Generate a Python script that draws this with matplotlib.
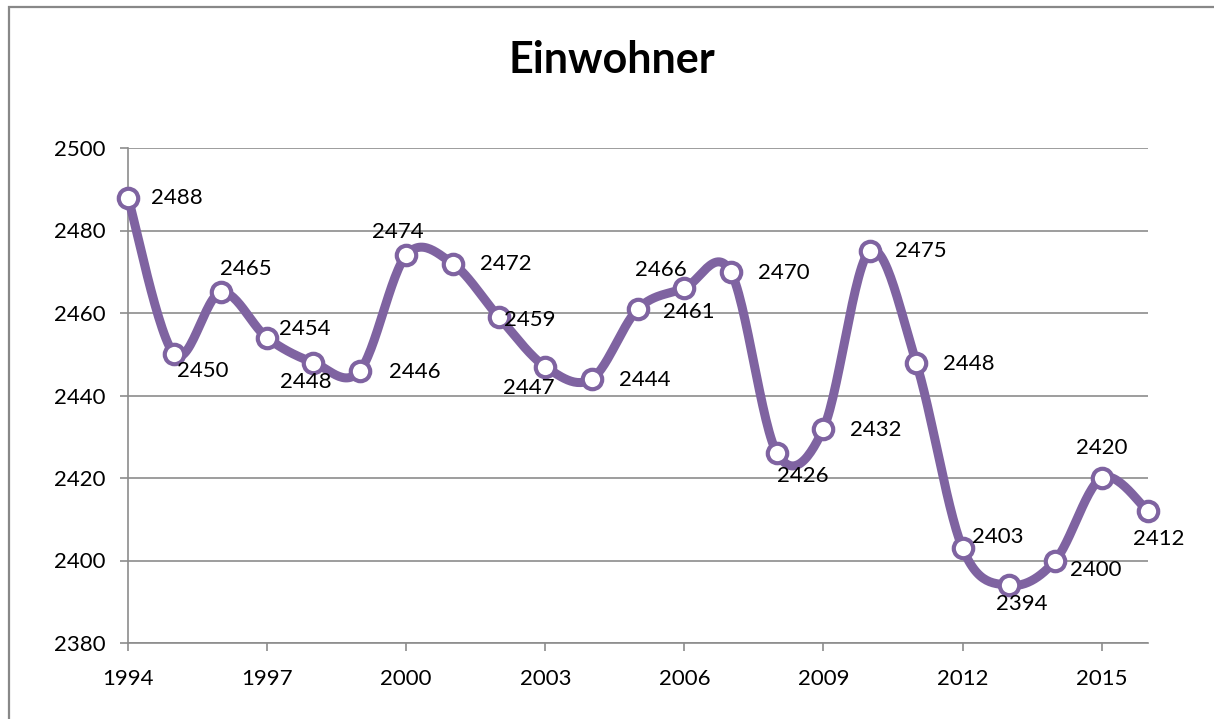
import numpy as np
import matplotlib.pyplot as plt
from matplotlib.patches import Rectangle

# data
years = list(range(1994, 2017))
einwohner = [2488, 2450, 2465, 2454, 2448, 2446, 2474, 2472, 2459, 2447, 2444,
             2461, 2466, 2470, 2426, 2432, 2475, 2448, 2403, 2394, 2400, 2420, 2412]
x_ticks = [1994, 1997, 2000, 2003, 2006, 2009, 2012, 2015]
y_ticks = [2380, 2400, 2420, 2440, 2460, 2480, 2500]

# label offsets in pixels (dx, dy up)
label_off = [(49, 0), (28, -17), (25, 23), (38, 9), (-8, -20), (55, -1), (-8, 23),
             (53, -1), (31, -3), (-16, -21), (53, -1), (51, -3), (-23, 18), (53, -1),
             (26, -23), (52, -1), (51, 0), (53, -1), (35, 11), (13, -19), (40, -10),
             (0, 30), (11, -28)]

purple = '#7F63A1'
grid_c = '#8C8C8C'
plt.rcParams['font.family'] = ['Lato', 'DejaVu Sans']


def smooth(xs, ys, n=30):
    # Excel-like smoothing: bezier with catmull-rom control points
    xs = np.asarray(xs, float)
    ys = np.asarray(ys, float)
    px, py = [], []
    m = len(xs)
    for i in range(m - 1):
        i0 = max(i - 1, 0)
        i3 = min(i + 2, m - 1)
        p0 = np.array([xs[i], ys[i]])
        p3 = np.array([xs[i + 1], ys[i + 1]])
        c1 = p0 + (p3 - np.array([xs[i0], ys[i0]])) / 6
        c2 = p3 - (np.array([xs[i3], ys[i3]]) - p0) / 6
        t = np.linspace(0, 1, n)[:, None]
        pts = (1 - t) ** 3 * p0 + 3 * (1 - t) ** 2 * t * c1 + 3 * (1 - t) * t ** 2 * c2 + t ** 3 * p3
        px.extend(pts[:, 0])
        py.extend(pts[:, 1])
    return px, py


fig = plt.figure(figsize=(12.14, 7.19), dpi=100)
W, H = 1214, 719
ax = fig.add_axes([128 / W, 1 - 643 / H, (1148 - 128) / W, (643 - 148) / H])

# chart border
fig.patches.append(Rectangle((9 / W, -0.1), 1.2, 1 - 7 / H + 0.1, transform=fig.transFigure,
                             fill=False, edgecolor='#888888', linewidth=1.6))

sx, sy = smooth(years, einwohner)
ax.plot(sx, sy, color=purple, linewidth=6.5, solid_capstyle='round',
        solid_joinstyle='round', zorder=3, clip_on=False)
ax.plot(years, einwohner, linestyle='none', marker='o', markersize=14,
        markerfacecolor='white', markeredgecolor=purple, markeredgewidth=3,
        zorder=4, clip_on=False)

for x, y, (dx, dy) in zip(years, einwohner, label_off):
    ax.annotate(str(y), (x, y), xytext=(dx * 0.72, dy * 0.72), textcoords='offset points',
                ha='center', va='center', fontsize=16, color='black', zorder=5)

ax.set_xlim(1994, 2016)
ax.set_ylim(2380, 2500)
ax.set_xticks(x_ticks)
ax.set_yticks(y_ticks)
ax.grid(axis='y', color=grid_c, linewidth=1.2)
ax.set_axisbelow(True)
for s in ['top', 'right']:
    ax.spines[s].set_visible(False)
for s in ['left', 'bottom']:
    ax.spines[s].set_color(grid_c)
    ax.spines[s].set_linewidth(1.2)
ax.tick_params(axis='both', direction='out', length=6, width=1.2, color=grid_c,
               labelsize=16)
ax.tick_params(axis='x', pad=13)
ax.tick_params(axis='y', pad=10)

fig.text(612 / W, 1 - 60 / H, 'Einwohner', ha='center', va='center',
         fontsize=31, fontweight='bold')

fig.savefig('out.png', dpi=100)
